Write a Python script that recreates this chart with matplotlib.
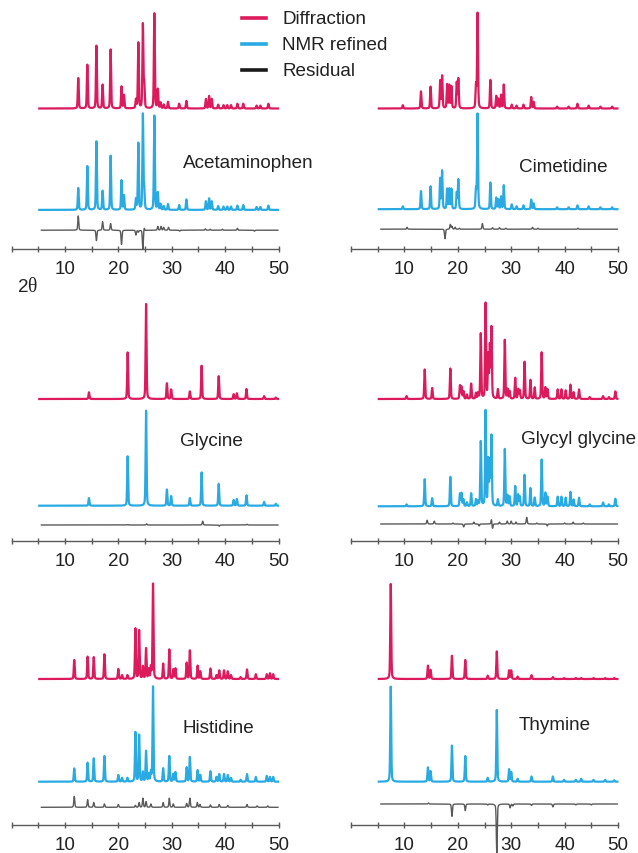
import numpy as np
import matplotlib
matplotlib.use('Agg')
import matplotlib.pyplot as plt
from matplotlib.lines import Line2D

plt.rcParams['font.family'] = ['Liberation Sans', 'DejaVu Sans']

# peak lists: 2theta position, relative heights (max = 1)
acet_pos = [12.5, 14.2, 15.9, 17.06, 18.56, 20.6, 21.06, 23.3, 23.75, 24.6, 24.85, 26.75, 27.4, 27.9, 28.5,
            29.3, 31.4, 32.75, 36.4, 37.0, 37.5, 38.7, 39.7, 40.4, 41.1, 42.3, 43.4, 45.9, 46.6, 48.1]
acet_diff = [0.32, 0.46, 0.66, 0.25, 0.62, 0.23, 0.14, 0.09, 0.69, 0.88, 0.25, 1.0, 0.2, 0.06, 0.04,
             0.07, 0.05, 0.08, 0.1, 0.13, 0.1, 0.04, 0.035, 0.035, 0.035, 0.05, 0.05, 0.03, 0.03, 0.05]
acet_nmr = [0.23, 0.46, 0.72, 0.2, 0.57, 0.31, 0.15, 0.11, 0.70, 1.0, 0.2, 0.99, 0.18, 0.06, 0.04,
            0.06, 0.05, 0.11, 0.09, 0.12, 0.09, 0.04, 0.035, 0.035, 0.035, 0.045, 0.05, 0.03, 0.03, 0.045]
acet_res_pos = [12.5, 15.9, 17.06, 18.56, 20.6, 23.3, 23.75, 24.6, 24.85, 27.4, 28.0, 28.5, 29.4, 31.5,
                36.3, 37.2, 39.5, 42.3, 45.5]
acet_res = [0.15, -0.11, 0.09, 0.07, -0.15, -0.05, -0.02, -0.2, 0.03, 0.04, 0.04, 0.03, 0.03, -0.01,
            0.015, 0.01, 0.01, 0.02, -0.01]

cime_pos = [9.7, 13.1, 14.9, 16.7, 17.06, 18.0, 18.4, 18.8, 19.8, 20.1, 23.4, 23.7, 26.1, 27.2, 27.6,
            28.1, 28.6, 30.1, 31.0, 32.3, 33.75, 34.2, 38.6, 40.75, 42.4, 44.5, 46.7, 48.9]
cime_diff = [0.035, 0.18, 0.23, 0.29, 0.34, 0.25, 0.24, 0.23, 0.27, 0.31, 0.24, 1.0, 0.3, 0.13, 0.1,
             0.14, 0.25, 0.04, 0.03, 0.04, 0.12, 0.07, 0.02, 0.02, 0.05, 0.03, 0.02, 0.02]
cime_nmr = [0.03, 0.19, 0.24, 0.32, 0.40, 0.21, 0.21, 0.21, 0.17, 0.31, 0.2, 1.0, 0.28, 0.12, 0.1,
            0.13, 0.25, 0.05, 0.03, 0.04, 0.1, 0.06, 0.02, 0.02, 0.04, 0.03, 0.02, 0.02]
cime_res_pos = [10.5, 17.6, 18.6, 18.9, 19.5, 20.3, 24.6, 26.5, 27.8, 29.0, 34.0, 35.0, 42.5]
cime_res = [0.02, -0.1, 0.05, 0.03, 0.02, 0.01, 0.06, 0.015, 0.015, 0.01, 0.02, 0.01, 0.01]

gly_pos = [14.5, 21.75, 25.2, 29.1, 29.9, 33.4, 35.6, 38.8, 41.6, 42.2, 44.0, 47.3, 49.5]
gly_diff = [0.07, 0.49, 1.0, 0.165, 0.1, 0.08, 0.35, 0.24, 0.05, 0.06, 0.105, 0.03, 0.015]
gly_nmr = [0.08, 0.52, 1.0, 0.17, 0.1, 0.08, 0.35, 0.23, 0.06, 0.07, 0.11, 0.04, 0.02]
gly_res_pos = [21.75, 25.3, 35.8, 38.9, 44.1]
gly_res = [0.005, 0.012, 0.04, -0.012, 0.008]

glygly_pos = [10.4, 13.8, 15.2, 18.6, 20.4, 20.7, 21.05, 21.7, 22.5, 23.4, 23.8, 24.3, 25.2, 25.7, 26.0,
              26.3, 27.5, 28.8, 29.3, 29.7, 30.75, 31.3, 31.6, 32.5, 33.6, 34.4, 35.7, 36.4, 36.8, 38.7,
              39.4, 40.2, 41.1, 41.7, 42.7, 44.7, 47.2, 48.3, 49.5]
glygly_diff = [0.03, 0.31, 0.115, 0.32, 0.14, 0.125, 0.08, 0.045, 0.16, 0.06, 0.06, 0.685, 1.0, 0.45, 0.54,
               0.74, 0.1, 0.62, 0.1, 0.08, 0.22, 0.1, 0.09, 0.39, 0.2, 0.12, 0.49, 0.12, 0.1, 0.1,
               0.1, 0.09, 0.15, 0.07, 0.1, 0.02, 0.03, 0.02, 0.08]
glygly_nmr = [0.02, 0.285, 0.085, 0.31, 0.13, 0.135, 0.07, 0.04, 0.135, 0.07, 0.05, 0.68, 1.0, 0.48, 0.45,
              0.73, 0.07, 0.6, 0.11, 0.1, 0.21, 0.12, 0.1, 0.33, 0.19, 0.09, 0.49, 0.14, 0.1, 0.1,
              0.1, 0.09, 0.15, 0.07, 0.09, 0.02, 0.04, 0.02, 0.08]
glygly_res_pos = [14.25, 15.6, 19.1, 21.1, 23.0, 24.0, 26.3, 26.5, 27.8, 29.25, 30.0, 30.9, 32.9, 34.8,
                  36.75, 40.0, 41.6, 43.5]
glygly_res = [0.04, 0.03, 0.01, -0.03, 0.02, -0.02, 0.05, -0.05, 0.02, 0.03, 0.03, 0.02, 0.07, 0.01,
              -0.02, 0.01, 0.02, 0.01]

hist_pos = [11.75, 14.25, 15.4, 17.4, 20.0, 20.7, 21.7, 23.2, 23.9, 24.6, 25.2, 25.7, 26.1, 26.5, 28.4,
            29.55, 30.3, 30.7, 32.8, 33.4, 34.85, 35.35, 37.25, 38.4, 38.9, 39.8, 40.5, 41.1, 42.9, 44.1,
            45.75, 47.8, 48.4, 49.0]
hist_diff = [0.2, 0.235, 0.23, 0.26, 0.105, 0.04, 0.04, 0.53, 0.51, 0.13, 0.32, 0.1, 0.12, 1.0, 0.16,
             0.31, 0.1, 0.11, 0.17, 0.3, 0.14, 0.08, 0.11, 0.04, 0.09, 0.09, 0.08, 0.04, 0.02, 0.1,
             0.05, 0.05, 0.06, 0.05]
hist_nmr = [0.14, 0.2, 0.245, 0.27, 0.07, 0.04, 0.04, 0.52, 0.49, 0.1, 0.32, 0.08, 0.1, 1.0, 0.14,
            0.27, 0.08, 0.1, 0.15, 0.26, 0.12, 0.07, 0.11, 0.05, 0.08, 0.08, 0.07, 0.04, 0.02, 0.08,
            0.05, 0.06, 0.05, 0.05]
hist_res_pos = [11.75, 14.25, 15.4, 17.4, 20.0, 23.2, 23.9, 24.6, 25.2, 26.1, 28.4, 29.55, 30.3, 32.8,
                33.4, 34.8, 35.3, 37.25, 38.9, 40.5, 44.1, 46.0, 48.0]
hist_res = [0.115, 0.08, 0.05, 0.035, 0.03, 0.02, 0.05, 0.095, 0.06, 0.035, 0.05, 0.095, 0.035, 0.04,
            0.095, 0.05, 0.03, 0.025, 0.03, 0.02, 0.03, 0.015, 0.015]

thym_pos = [7.44, 14.4, 14.9, 18.9, 21.4, 25.6, 27.3, 29.6, 30.0, 31.2, 33.8, 37.8, 39.9, 42.1, 43.1,
            45.4, 47.6, 49.3]
thym_diff = [1.0, 0.14, 0.095, 0.245, 0.2, 0.035, 0.29, 0.09, 0.09, 0.025, 0.04, 0.02, 0.01, 0.01, 0.01,
             0.01, 0.01, 0.01]
thym_nmr = [1.0, 0.15, 0.11, 0.38, 0.27, 0.04, 0.755, 0.13, 0.1, 0.03, 0.055, 0.055, 0.02, 0.02, 0.03,
            0.02, 0.02, 0.015]
thym_res_pos = [14.5, 18.9, 21.4, 25.6, 27.3, 29.8, 30.3, 33.8, 37.8, 42.1, 45.0]
thym_res = [0.01, -0.13, -0.07, -0.01, -0.52, -0.04, -0.02, -0.015, -0.03, -0.01, -0.01]

names = ['Acetaminophen', 'Cimetidine', 'Glycine', 'Glycyl glycine', 'Histidine', 'Thymine']
tick_vals = list(range(0, 51, 5))

RED = '#dc1a5c'
BLUE = '#2aaae2'
GRAY = '#5a5a5a'

W, H = 638, 854
fig = plt.figure(figsize=(W / 100, H / 100), dpi=100)

x = np.arange(5.2, 49.9, 0.01)
xr = np.arange(5.6, 49.9, 0.01)


def profile(xx, pos, amp, w=0.085):
    out = np.zeros_like(xx)
    for p, a in zip(pos, amp):
        d = (xx - p) / w
        out += a * (0.7 * np.exp(-0.5 * d ** 2) + 0.3 / (1 + (d / 1.3) ** 2))
    return out


panels = [
    (acet_pos, acet_diff, acet_nmr, acet_res_pos, acet_res),
    (cime_pos, cime_diff, cime_nmr, cime_res_pos, cime_res),
    (gly_pos, gly_diff, gly_nmr, gly_res_pos, gly_res),
    (glygly_pos, glygly_diff, glygly_nmr, glygly_res_pos, glygly_res),
    (hist_pos, hist_diff, hist_nmr, hist_res_pos, hist_res),
    (thym_pos, thym_diff, thym_nmr, thym_res_pos, thym_res),
]

# layout in pixels
col_x = [(11.5, 278.5), (351, 618)]
axis_y = [249.5, 541.7, 826]
offsets = [(140, 38.6, 18.3), (140, 39.3, 19.3), (141.7, 35, 15.7),
           (141.7, 34.4, 16.7), (146, 43.3, 17.7), (146, 43.3, 21)]
label_xy = [(183, 164), (519, 167), (180, 442), (521, 440), (183, 729), (519, 726)]
scale = 95.0
ax_h = 240.0
fs = 13.6

for i, (pos, dif, nmr, rpos, res) in enumerate(panels):
    row, col = divmod(i, 2)
    x0, x1 = col_x[col]
    ay = axis_y[row]
    ax = fig.add_axes([x0 / W, 1 - ay / H, (x1 - x0) / W, ax_h / H])
    ax.patch.set_visible(False)
    ax.set_xlim(0, 50)
    ax.set_ylim(0, ax_h)
    red_off, blue_off, res_off = offsets[i]

    ax.plot(x, red_off + scale * profile(x, pos, dif), color=RED, lw=1.6, clip_on=False)
    ax.plot(x, blue_off + scale * profile(x, pos, nmr), color=BLUE, lw=1.6, clip_on=False)
    ax.plot(xr, res_off + scale * profile(xr, rpos, res), color=GRAY, lw=1.0, clip_on=False, zorder=5)

    for s in ['left', 'right', 'top']:
        ax.spines[s].set_visible(False)
    ax.spines['bottom'].set_color(GRAY)
    ax.spines['bottom'].set_linewidth(1.0)
    ax.set_yticks([])
    ax.set_xticks(tick_vals)
    ax.set_xticklabels([str(t) if t % 10 == 0 and t > 0 else '' for t in tick_vals])
    ax.tick_params(axis='x', direction='inout', length=4, width=1, color=GRAY,
                   labelsize=fs, pad=6, labelcolor='#222222')

    lx, ly = label_xy[i]
    fig.text(lx / W, 1 - ly / H, names[i], fontsize=fs, color='#222222', va='center')

# 2theta axis note
fig.text(18 / W, 1 - 287 / H, '2', fontsize=fs, color='#222222', va='center')
fig.text(27.5 / W, 1 - 287 / H, '\u03b8', fontsize=fs + 0.5, color='#222222', va='center',
         family=['Liberation Serif', 'DejaVu Serif'])

# legend
for y, c, lab in zip([19, 45, 71], [RED, BLUE, '#1a1a1a'], ['Diffraction', 'NMR refined', 'Residual']):
    fig.add_artist(Line2D([242 / W, 266 / W], [1 - y / H, 1 - y / H], color=c, lw=2.6))
    fig.text(282 / W, 1 - y / H, lab, fontsize=fs, color='#222222', va='center')

fig.savefig('out.png', dpi=100)
